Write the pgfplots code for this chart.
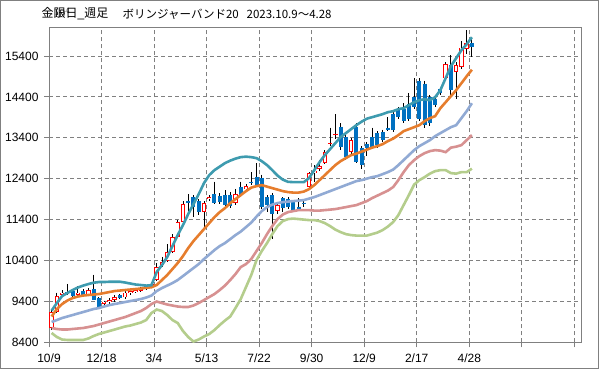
\documentclass[border=0pt]{standalone}
\usepackage{fontspec}
\setmainfont{Liberation Sans}
\newfontfamily\jp{Noto Sans CJK JP}
\usepackage{pgfplots}
\usepackage{pgfplotstable}
\pgfplotsset{compat=1.18}
\definecolor{cteal}{RGB}{62,155,175}
\definecolor{corange}{RGB}{230,125,45}
\definecolor{cblueband}{RGB}{145,170,212}
\definecolor{credband}{RGB}{215,145,145}
\definecolor{cgreen}{RGB}{180,205,140}
\definecolor{cdown}{RGB}{0,112,192}
\definecolor{cgrid}{RGB}{128,128,128}

\pgfplotstableread{
i O H L C
0 8750 9200 8700 9150
1 9150 9620 9120 9540
2 9560 9680 9520 9620
5 9570 9780 9520 9620
7 9570 9720 9540 9690
10 9340 9420 9300 9400
11 9380 9490 9350 9440
12 9430 9560 9400 9520
14 9500 9650 9470 9620
15 9600 9690 9570 9650
16 9640 9720 9600 9690
17 9670 9760 9640 9730
18 9700 9790 9680 9770
19 9780 9850 9740 9820
20 9930 10330 9900 10250
21 10290 10490 10240 10370
22 10400 10800 10370 10620
23 10620 11050 10580 10980
24 10980 11400 10950 11350
25 11350 11850 11300 11780
29 11590 11850 11210 11800
30 11900 12000 11850 11950
35 11800 12150 11750 12030
37 12140 12260 12080 12220
43 11610 11800 11550 11760
49 12200 12560 12150 12530
50 12530 12730 12330 12600
51 12640 12860 12600 12720
52 12790 13100 12760 13060
53 13240 13650 13200 13280
54 13460 13980 13380 13500
57 13057 13400 12990 13340
75 14850 15250 14800 15198
77 15020 15250 14340 15180
78 15130 15770 15080 15605
79 15580 16030 15450 15720
}\up

\pgfplotstableread{
i O H L C
3 9640 9830 9560 9590
4 9650 9700 9480 9530
6 9650 9700 9520 9560
8 9700 10060 9430 9440
9 9480 9500 9240 9270
13 9550 9590 9460 9490
26 11860 12020 11610 11820
27 11960 12000 11460 11715
28 11850 11900 11520 11580
31 12025 12330 11780 11815
32 11980 12050 11780 11830
33 12010 12120 11700 11760
34 12010 12080 11680 11730
36 12200 12330 11950 12000
38 12330 12560 12250 12290
39 12450 12780 12200 12240
40 12420 12500 11650 11715
41 11960 12000 11600 11760
42 12000 12050 10920 11550
44 11920 11950 11600 11675
45 11895 11950 11650 11715
46 11850 11880 11600 11630
47 11720 11920 11620 11640
48 11820 11900 11720 11780
55 13670 13750 13100 13180
56 13420 13500 12850 12935
58 13668 13750 12780 12813
59 13140 13200 12650 12733
60 13260 13300 12950 13140
61 13420 13650 13150 13180
62 13520 13560 13150 13220
63 13545 13600 13300 13340
64 13650 13900 13560 13600
65 13990 14050 13550 13590
66 14100 14150 13850 13900
67 14110 14250 13760 13800
68 14230 14500 13800 13870
69 14400 14860 14100 14160
70 14800 14850 13800 13870
71 14727 14800 13650 13710
72 14400 14450 13700 13750
73 14360 14420 14150 14197
74 14600 14650 14450 14500
76 15174 15420 14400 14564
80 15718 15870 15370 15620
}\down

\pgfplotstableread{
i t o m r g
0 9180 9035 8900 8754 8632
1 9365 9218 8949 8730 8534
2 9535 9340 8998 8717 8473
3 9608 9425 9035 8717 8461
4 9682 9486 9071 8730 8461
5 9743 9523 9108 8742 8461
6 9790 9547 9144 8754 8461
7 9828 9560 9181 8778 8498
8 9860 9572 9218 8803 8559
9 9877 9584 9242 8839 8608
10 9877 9608 9279 8876 8644
11 9884 9633 9315 8913 8681
12 9884 9657 9340 8949 8717
13 9884 9669 9364 8986 8754
14 9865 9682 9389 9022 8791
15 9840 9694 9413 9071 8815
16 9816 9706 9437 9120 8852
17 9804 9718 9462 9169 8888
18 9790 9735 9498 9242 8949
19 9800 9750 9547 9340 9120
20 10121 9804 9657 9401 9205
21 10292 9926 9730 9364 9169
22 10487 10048 9791 9328 9071
23 10756 10194 9852 9303 8949
24 11024 10341 9926 9279 8876
25 11268 10511 10023 9267 8681
26 11537 10707 10121 9267 8534
27 11780 10878 10219 9303 8424
28 12024 11024 10316 9364 8473
29 12293 11170 10438 9437 8546
30 12489 11316 10548 9511 8607
31 12611 11463 10658 9584 8705
32 12696 11585 10755 9682 8827
33 12782 11683 10829 9791 8937
34 12843 11805 10926 9926 9035
35 12892 11903 11024 10072 9242
36 12928 12000 11110 10243 9462
37 12940 12098 11219 10316 9755
38 12928 12184 11329 10438 10048
39 12904 12220 11476 10634 10414
40 12830 12245 11610 10829 10634
41 12733 12208 11708 11048 10829
42 12611 12171 11768 11244 11048
43 12477 12135 11805 11415 11244
44 12379 12098 11830 11524 11366
45 12325 12074 11842 11586 11415
46 12318 12062 11854 11610 11427
47 12318 12062 11866 11634 11415
48 12318 12086 11878 11634 11402
49 12416 12147 11915 11634 11390
50 12611 12245 11952 11622 11390
51 12806 12367 12000 11622 11366
52 12977 12489 12049 11634 11317
53 13123 12611 12098 11646 11244
54 13270 12733 12147 11659 11158
55 13416 12830 12196 11683 11097
56 13514 12904 12245 11707 11048
57 13611 12977 12293 11732 11024
58 13709 13014 12342 11756 11012
59 13794 13062 12367 11805 11012
60 13868 13111 12403 11854 11012
61 13904 13160 12440 11927 11048
62 13941 13197 12464 11988 11085
63 13978 13245 12513 12049 11146
64 14026 13319 12562 12110 11231
65 14051 13380 12623 12196 11341
66 14100 13465 12733 12367 11512
67 14124 13563 12855 12562 11756
68 14197 13611 12977 12733 12000
69 14270 13660 13099 12855 12257
70 14319 13709 13197 12953 12367
71 14343 13807 13270 13026 12440
72 14319 13880 13343 13075 12525
73 14393 13929 13441 13099 12586
74 14564 14124 13514 13087 12611
75 14857 14270 13587 13050 12611
76 15150 14417 13660 13160 12538
77 15345 14564 13709 13184 12525
78 15540 14734 13880 13221 12562
79 15686 14905 14051 13343 12562
80 15857 15064 14246 13465 12647
}\bands

\begin{document}
\begin{tikzpicture}[x=1pt,y=1pt]
\path[use as bounding box] (0,0) rectangle (599,369);
\draw[cgrid, line width=1pt] (0.5,0.5) rectangle (598.5,368.5);
\node[anchor=west, inner sep=0pt, font=\jp\fontsize{12}{12}\selectfont] at (41.5,355) {金限日{\rmfamily\_}週足};
\node[anchor=west, inner sep=0pt, font=\jp\fontsize{11.5}{12}\selectfont] at (122.5,355) {ボリンジャーバンド20};
\node[anchor=west, inner sep=0pt, font=\jp\fontsize{11.5}{12}\selectfont] at (246.5,355) {2023.10.9～4.28};
\begin{axis}[
  at={(49pt,26.5pt)}, anchor=south west,
  scale only axis, width=532.7pt, height=315.2pt,
  xmin=0, xmax=101.4, ymin=8400, ymax=16100,
  xtick={0,10,...,100},
  xticklabels={10/9,12/18,3/4,5/13,7/22,9/30,12/9,2/17,4/28,,},
  ytick={8400,9400,...,15400},
  yticklabels={8400,9400,10400,11400,12400,13400,14400,15400},
  tick pos=left, tick align=outside, major tick length=5pt,
  tick style={cgrid, line width=0.8pt},
  axis line style={cgrid, line width=1pt},
  grid=major,
  major grid style={cgrid, line width=0.8pt, dash pattern=on 4pt off 3pt},
  tick label style={font=\fontsize{12}{12}\selectfont, text=black},
  xticklabel style={yshift=-3pt},
  yticklabel style={xshift=-2pt},
  clip=true,
]
% wicks
\addplot[draw=none, mark=none, forget plot, error bars/.cd, y dir=minus, y explicit, error mark=none,
  error bar style={black, line width=0.9pt, solid}]
  table[x expr=\thisrow{i}+0.5, y=H, y error minus expr=\thisrow{H}-\thisrow{L}] {\up};
\addplot[draw=none, mark=none, forget plot, error bars/.cd, y dir=minus, y explicit, error mark=none,
  error bar style={black, line width=0.9pt, solid}]
  table[x expr=\thisrow{i}+0.5, y=H, y error minus expr=\thisrow{H}-\thisrow{L}] {\down};
% down bodies
\addplot[draw=none, mark=none, forget plot, error bars/.cd, y dir=minus, y explicit, error mark=none,
  error bar style={cdown, line width=4pt, solid}]
  table[x expr=\thisrow{i}+0.5, y=O, y error minus expr=\thisrow{O}-\thisrow{C}] {\down};
% up bodies
\addplot[draw=none, mark=none, forget plot, error bars/.cd, y dir=minus, y explicit, error mark=none,
  error bar style={red, line width=4.4pt, solid}]
  table[x expr=\thisrow{i}+0.5, y=C, y error minus expr=\thisrow{C}-\thisrow{O}] {\up};
\addplot[draw=none, mark=none, forget plot, error bars/.cd, y dir=minus, y explicit, error mark=none,
  error bar style={white, line width=2.6pt, solid}]
  table[x expr=\thisrow{i}+0.5, y expr=\thisrow{C}-22, y error minus expr={max(\thisrow{C}-\thisrow{O}-44,0)}] {\up};
% bands
\addplot[cgreen, line width=2.6pt, mark=none] table[x expr=\thisrow{i}+0.5, y=g] {\bands};
\addplot[credband, line width=2.6pt, mark=none] table[x expr=\thisrow{i}+0.5, y=r] {\bands};
\addplot[cblueband, line width=2.6pt, mark=none] table[x expr=\thisrow{i}+0.5, y=m] {\bands};
\addplot[corange, line width=2.6pt, mark=none] table[x expr=\thisrow{i}+0.5, y=o] {\bands};
\addplot[cteal, line width=2.6pt, mark=none] table[x expr=\thisrow{i}+0.5, y=t] {\bands};
\end{axis}
\end{tikzpicture}
\end{document}
